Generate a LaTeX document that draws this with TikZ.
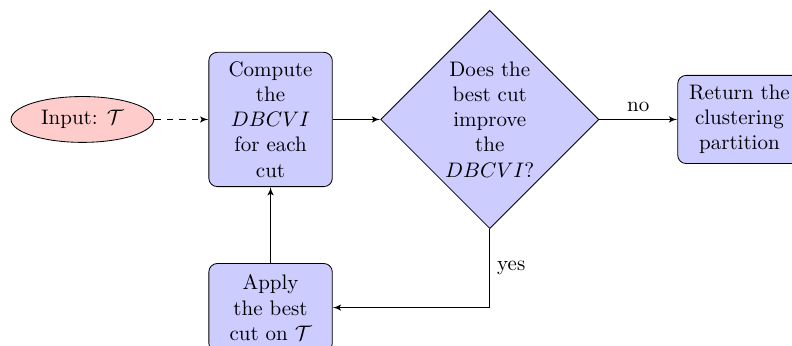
\documentclass[tikz,border=0pt]{standalone}
\usepackage{amsmath}
\usepackage{amssymb}
\usepackage{tikz}
\usetikzlibrary{shapes.geometric,arrows}

\tikzset{
  block/.style={rectangle, draw, fill=blue!20, text width=5em, text centered, rounded corners, inner sep=4.4pt, minimum height=4.2em},
  decision/.style={diamond, draw, fill=blue!20, text width=4.5em, text badly centered, inner sep=1pt},
  cloud/.style={ellipse, draw, fill=red!20, minimum width=6.8em, minimum height=2em},
  line/.style={draw, -latex'}
}

\begin{document}
\begin{tikzpicture}
      \useasboundingbox (-4.53,-3.78) rectangle (8.73,2.00);
      \node [cloud] (input) at (-3.15,0) {Input: $\mathcal{T}$};
      \node [block] (compute) at (0,0) {Compute the $DBCVI$ for each cut};
      \node [decision] (decide) at (3.67,0) {Does the best cut improve the $DBCVI$?};
      \node [block] (result) at (7.85,0) {Return the clustering partition};
      \node [block] (apply) at (0,-3.15) {Apply the best cut on $\mathcal{T}$};
      \draw [line, dashed] (input) -- (compute);
      \draw [line] (compute) -- (decide);
      \draw [line] (decide) -- node [above] {no} (result);
      \draw [line] (decide) |- node [near start, right] {yes} (apply);
      \draw [line] (apply) -- (compute);
    \end{tikzpicture}
\end{document}
